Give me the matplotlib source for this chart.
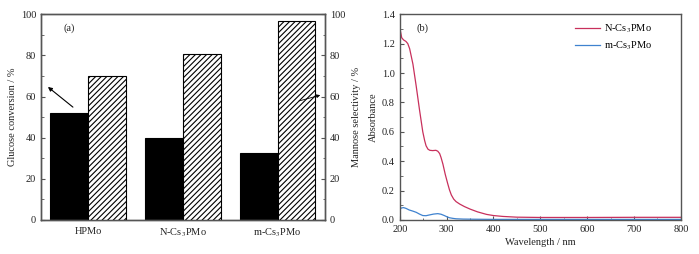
import matplotlib

matplotlib.use("Agg")
import matplotlib.pyplot as plt
import numpy as np
from matplotlib.ticker import MultipleLocator, FormatStrFormatter

plt.rcParams["font.family"] = ["Liberation Serif", "DejaVu Serif"]
plt.rcParams["mathtext.fontset"] = "stix"
plt.rcParams["font.size"] = 7.5
plt.rcParams["hatch.linewidth"] = 0.8

CATALYSTS = ["HPMo", "N-Cs$_3$PMo", "m-Cs$_3$PMo"]
GLUCOSE_CONVERSION = [52.0, 40.0, 32.5]
MANNOSE_SELECTIVITY = [70.0, 80.5, 96.5]

WAVELENGTH_N = [200, 201, 204, 208, 213, 217, 221, 224, 228, 235, 242, 249, 253,
                256, 260, 264, 270, 277, 281, 285, 288, 292, 297, 302, 306, 310,
                315, 320, 328, 338, 350, 366, 385, 400, 420, 450, 500, 600, 700, 800]
ABS_N = [1.30, 1.29, 1.24, 1.225, 1.215, 1.20, 1.165, 1.12, 1.06, 0.91, 0.75,
         0.60, 0.54, 0.505, 0.482, 0.474, 0.472, 0.474, 0.468, 0.452, 0.425, 0.38,
         0.31, 0.25, 0.205, 0.17, 0.142, 0.125, 0.108, 0.091, 0.074, 0.055, 0.038,
         0.030, 0.024, 0.019, 0.017, 0.017, 0.018, 0.018]
WAVELENGTH_M = [200, 204, 208, 213, 220, 228, 235, 242, 249, 256, 263, 272, 281,
                288, 295, 301, 306, 313, 320, 335, 360, 400, 500, 800]
ABS_M = [0.075, 0.082, 0.084, 0.079, 0.068, 0.060, 0.052, 0.040, 0.030, 0.029,
         0.034, 0.040, 0.043, 0.039, 0.030, 0.021, 0.015, 0.011, 0.008, 0.006,
         0.005, 0.004, 0.004, 0.004]

SPINE = "#555555"
TEXT = "#222222"


def style(ax):
    for s in ax.spines.values():
        s.set_color(SPINE)
        s.set_linewidth(1.0)
    ax.tick_params(which="both", direction="in", colors=SPINE, labelcolor=TEXT)
    ax.tick_params(which="major", length=3)
    ax.tick_params(which="minor", length=1.8)


fig = plt.figure(figsize=(6.99, 2.54), dpi=100)

# (a) conversion / selectivity bars
ax1 = fig.add_axes([0.0587, 0.134, 0.406, 0.81])
x = np.arange(len(CATALYSTS))
w = 0.4
ax1.bar(x - w / 2, GLUCOSE_CONVERSION, w, color="black", edgecolor="black", linewidth=0.8)
ax2 = ax1.twinx()
ax2.bar(x + w / 2, MANNOSE_SELECTIVITY, w, color="white", edgecolor="black",
        hatch="//////", linewidth=0.8)
ax1.set_xlim(-0.5, 2.5)
ax1.set_ylim(0, 100)
ax2.set_ylim(0, 100)
ax1.set_xticks(x)
ax1.set_xticklabels(CATALYSTS)
for ax in (ax1, ax2):
    style(ax)
    ax.yaxis.set_major_locator(MultipleLocator(20))
    ax.yaxis.set_minor_locator(MultipleLocator(10))
ax1.tick_params(axis="x", length=0, pad=5)
ax1.set_ylabel("Glucose conversion / %", color=TEXT, labelpad=3)
ax2.set_ylabel("Mannose selectivity / %", color=TEXT, labelpad=5)
ax1.text(0.08, 0.92, "(a)", transform=ax1.transAxes, color=TEXT)
ax2.annotate("", xy=(-0.45, 65.5), xytext=(-0.14, 54),
             arrowprops=dict(arrowstyle="-|>", color="black", lw=0.8, mutation_scale=6))
ax2.annotate("", xy=(2.48, 61), xytext=(2.2, 57.5),
             arrowprops=dict(arrowstyle="-|>", color="black", lw=0.6, mutation_scale=5))

# (b) UV-vis spectra
ax3 = fig.add_axes([0.572, 0.134, 0.402, 0.81])
ax3.plot(WAVELENGTH_N, ABS_N, color="#c8305c", lw=0.9, label="N-Cs$_3$PMo")
ax3.plot(WAVELENGTH_M, ABS_M, color="#3f82cf", lw=0.9, label="m-Cs$_3$PMo")
ax3.set_xlim(200, 800)
ax3.set_ylim(0, 1.4)
ax3.xaxis.set_major_locator(MultipleLocator(100))
ax3.xaxis.set_minor_locator(MultipleLocator(50))
ax3.yaxis.set_major_locator(MultipleLocator(0.2))
ax3.yaxis.set_minor_locator(MultipleLocator(0.1))
ax3.yaxis.set_major_formatter(FormatStrFormatter("%.1f"))
style(ax3)
ax3.set_xlabel("Wavelength / nm", color=TEXT, labelpad=3)
ax3.set_ylabel("Absorbance", color=TEXT, labelpad=3)
ax3.text(0.06, 0.92, "(b)", transform=ax3.transAxes, color=TEXT)
ax3.legend(loc="upper right", bbox_to_anchor=(0.93, 1.0), frameon=False,
           handlelength=2.4, handletextpad=0.4, labelspacing=0.45, borderaxespad=0.4)

fig.savefig("out.png", dpi=100)
